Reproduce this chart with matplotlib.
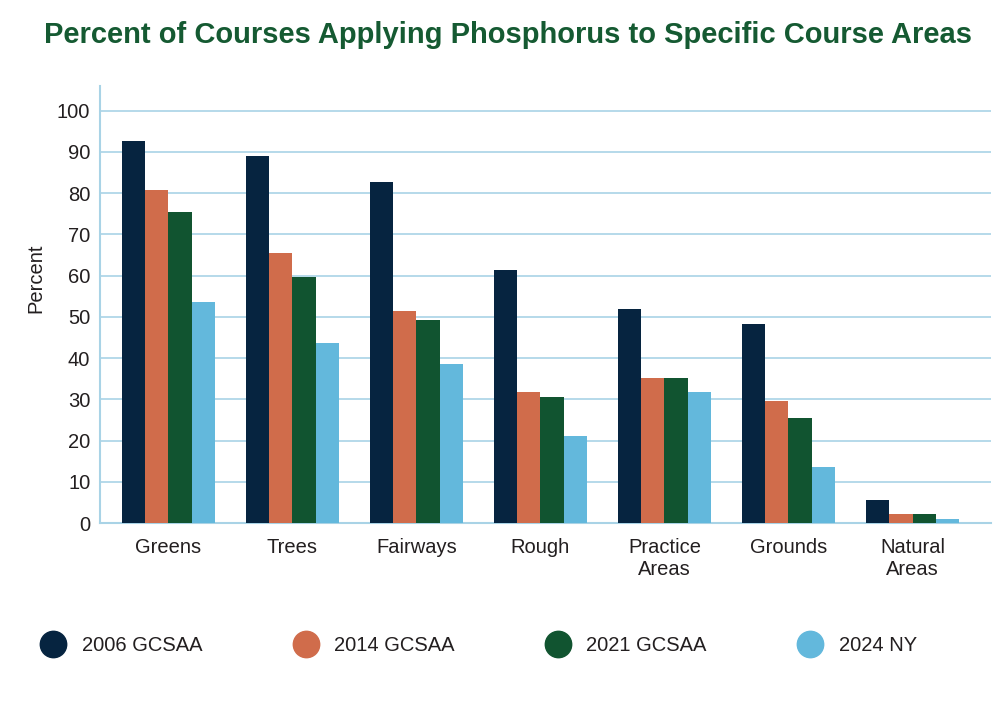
import matplotlib.pyplot as plt
import numpy as np
from matplotlib.lines import Line2D

# Datos
areas = ["Greens", "Trees", "Fairways", "Rough", "Practice\nAreas", "Grounds", "Natural\nAreas"]
series = ["2006 GCSAA", "2014 GCSAA", "2021 GCSAA", "2024 NY"]
v2006 = [92.7, 89.1, 82.8, 61.5, 51.9, 48.4, 5.5]
v2014 = [80.9, 65.4, 51.4, 31.7, 35.2, 29.6, 2.1]
v2021 = [75.4, 59.6, 49.2, 30.5, 35.2, 25.5, 2.1]
v2024 = [53.6, 43.6, 38.6, 21.2, 31.7, 13.6, 1.0]
valores = [v2006, v2014, v2021, v2024]

colores = ["#062440", "#d06c4b", "#115430", "#63b8dc"]
azul_grid = "#a9d3e6"
texto = "#231f20"

plt.rcParams["font.family"] = ["Liberation Sans", "DejaVu Sans"]

fig = plt.figure(figsize=(10, 7.05), dpi=100)
ax = fig.add_axes([0.100, 0.258, 0.891, 0.620])

x = np.arange(len(areas))
ancho = 0.186
for i, (nombre, vals) in enumerate(zip(series, valores)):
    ax.bar(x + (i - 1.5) * ancho, vals, ancho, color=colores[i], label=nombre, zorder=3)

ax.set_xlim(-0.552, 6.633)
ax.set_ylim(0, 106)
ax.set_yticks(range(0, 101, 10))
ax.set_xticks(x)
ax.set_xticklabels(areas)
ax.tick_params(axis="both", length=0, labelsize=14.5, colors=texto)
ax.tick_params(axis="x", pad=11)
ax.tick_params(axis="y", pad=7)
ax.grid(axis="y", color=azul_grid, linewidth=1.2, zorder=0)

for lado in ["top", "right"]:
    ax.spines[lado].set_visible(False)
for lado in ["left", "bottom"]:
    ax.spines[lado].set_color(azul_grid)
    ax.spines[lado].set_linewidth(1.5)

ax.set_ylabel("Percent", fontsize=14.5, color=texto)
ax.yaxis.set_label_coords(-0.061, 0.56)

fig.text(0.508, 0.950, "Percent of Courses Applying Phosphorus to Specific Course Areas",
         ha="center", va="center", fontsize=21, fontweight="bold", color="#155a32")

# Leyenda con circulos
manijas = [Line2D([], [], marker="o", linestyle="none", markersize=19,
                  markerfacecolor=c, markeredgecolor=c) for c in colores]
leg = fig.legend(manijas, series, loc="center", bbox_to_anchor=(0.477, 0.084), ncol=4,
                 frameon=False, fontsize=14.5, handletextpad=0.6, columnspacing=4.35,
                 handlelength=1.6)
for t in leg.get_texts():
    t.set_color(texto)

fig.savefig("out.png", dpi=100)
